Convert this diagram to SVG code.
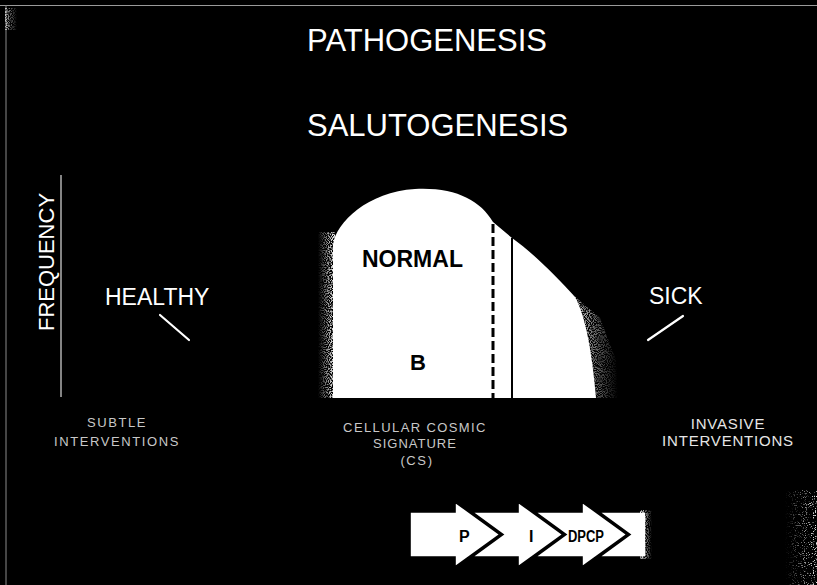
<svg xmlns="http://www.w3.org/2000/svg" width="817" height="585" viewBox="0 0 817 585">
<defs>
<style>
.t{font-family:"Liberation Sans",Arial,sans-serif;fill:#fff}
.big{font-size:31px}
.lab{font-size:23px}
.bold{font-weight:bold;fill:#000}
.small{font-size:13px;fill:#c8c8c8;letter-spacing:1.6px}
.arrow{fill:#fff;stroke:#000;stroke-width:1.6;stroke-linejoin:miter}
.ptr{stroke:#fff;stroke-width:2.2;stroke-linecap:round;fill:none}
</style>
<filter id="speckle" x="0" y="0" width="1" height="1">
<feTurbulence type="fractalNoise" baseFrequency="0.95" numOctaves="1" seed="7" result="n"/>
<feColorMatrix in="n" type="matrix" values="0 0 0 0 1 0 0 0 0 1 0 0 0 0 1 6 0 0 0 -2.6" result="dots"/>
<feComposite in="dots" in2="SourceGraphic" operator="in"/>
</filter>
<filter id="sparse" x="0" y="0" width="1" height="1">
<feTurbulence type="fractalNoise" baseFrequency="0.9" numOctaves="1" seed="11" result="n"/>
<feColorMatrix in="n" type="matrix" values="0 0 0 0 0.8 0 0 0 0 0.8 0 0 0 0 0.8 8 0 0 0 -4.6" result="dots"/>
<feComposite in="dots" in2="SourceGraphic" operator="in"/>
</filter>
<linearGradient id="fadeL" x1="0" y1="0" x2="1" y2="0">
<stop offset="0" stop-color="#fff" stop-opacity="0"/>
<stop offset="1" stop-color="#fff" stop-opacity="1"/>
</linearGradient>
<linearGradient id="fadeR" x1="0" y1="0" x2="1" y2="0">
<stop offset="0" stop-color="#fff" stop-opacity="1"/>
<stop offset="1" stop-color="#fff" stop-opacity="0"/>
</linearGradient>
</defs>
<rect x="0" y="0" width="817" height="585" fill="#000"/>
<line x1="0" y1="5.5" x2="817" y2="5.5" stroke="#9a9a9a" stroke-width="1"/>
<line x1="6" y1="5" x2="6" y2="585" stroke="#8a8a8a" stroke-width="1"/>
<rect x="5" y="8" width="12" height="22" fill="url(#fadeR)" filter="url(#speckle)" opacity="0.7"/>
<rect x="785" y="490" width="32" height="95" fill="url(#fadeL)" filter="url(#sparse)"/>

<g id="titles">
<text class="t big" x="307" y="51">PATHOGENESIS</text>
<text class="t big" x="307" y="136">SALUTOGENESIS</text>
</g>

<g id="axis">
<line x1="61" y1="175" x2="61" y2="397" stroke="#ddd" stroke-width="1.2"/>
<text class="t" font-size="22" transform="translate(54,262) rotate(-90)" text-anchor="middle">FREQUENCY</text>
</g>

<g id="healthy">
<text class="t lab" x="105" y="305">HEALTHY</text>
</g>
<g id="sick">
<text class="t lab" x="649" y="304">SICK</text>
</g>

<g id="curve">
<path d="M333,398 L333,245 C336,222 368,192 415,189 C455,187 480,200 493,222 L512,238 C532,252 556,276 575,297 C585,315 592,350 596,398 Z" fill="#fff"/>
<rect x="318" y="232" width="17" height="166" fill="url(#fadeL)" filter="url(#speckle)"/>
<path d="M565,288 L600,318 L616,360 L618,398 L565,398 Z" fill="url(#fadeR)" filter="url(#speckle)"/>
<line x1="493" y1="224" x2="493" y2="398" stroke="#000" stroke-width="3" stroke-dasharray="9,4"/>
<line x1="512" y1="238" x2="512" y2="398" stroke="#000" stroke-width="2"/>
<text class="t lab bold" x="362" y="267">NORMAL</text>
<text class="t bold" font-size="22" x="410" y="370">B</text>
</g>

<g id="subtle">
<text class="t small" x="117" y="427" text-anchor="middle">SUBTLE</text>
<text class="t small" x="117" y="446" text-anchor="middle">INTERVENTIONS</text>
</g>
<g id="ccs">
<text class="t small" x="415" y="432" text-anchor="middle" style="letter-spacing:1.4px">CELLULAR COSMIC</text>
<text class="t small" x="415" y="448" text-anchor="middle" style="letter-spacing:1px">SIGNATURE</text>
<text class="t small" x="417" y="465" text-anchor="middle">(CS)</text>
</g>
<g id="invasive">
<text class="t" font-size="15" x="728" y="429" text-anchor="middle" style="letter-spacing:0.8px;fill:#e6e6e6">INVASIVE</text>
<text class="t" font-size="15" x="728" y="446" text-anchor="middle" style="letter-spacing:0.8px;fill:#e6e6e6">INTERVENTIONS</text>
</g>

<g id="process">
<polygon class="arrow" points="599,512 646,512 646,557 599,557 630,534.5"/>
<rect x="640" y="510" width="12" height="49" fill="url(#fadeR)" filter="url(#speckle)"/>
<polygon class="arrow" points="535,512 582,512 582,502 627,534.5 582,567 582,557 535,557 566,534.5"/>
<polygon class="arrow" points="472,512 518,512 518,502 563,534.5 518,567 518,557 472,557 503,534.5"/>
<polygon class="arrow" points="410,512 455,512 455,502 500,534.5 455,567 455,557 410,557"/>
<text class="t bold" font-size="16" x="459" y="542">P</text>
<text class="t bold" font-size="16" x="529" y="542">I</text>
<text class="t bold" font-size="16" x="568" y="542" textLength="36" lengthAdjust="spacingAndGlyphs">DPCP</text>
</g>

<g id="connectors">
<line class="ptr" x1="160" y1="315" x2="189" y2="340"/>
<line class="ptr" x1="648" y1="340" x2="683" y2="316"/>
</g>
</svg>
